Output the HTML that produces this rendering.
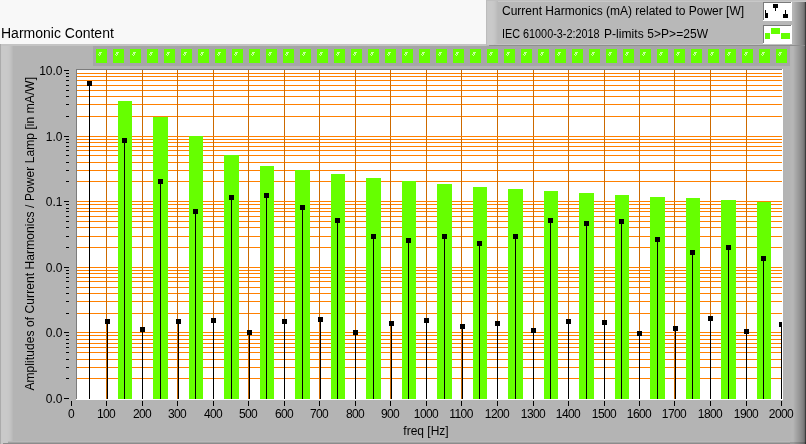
<!DOCTYPE html>
<html><head><meta charset="utf-8"><title>Harmonic Content</title>
<style>
html,body{margin:0;padding:0;background:#f8f8f8;}
body{width:806px;height:444px;overflow:hidden;}
svg{display:block;}
.t{font-family:"Liberation Sans", sans-serif;font-size:12px;fill:#000;}
.big{font-family:"Liberation Sans", sans-serif;font-size:14px;fill:#000;}
.l2{letter-spacing:-0.25px;}
</style></head><body>
<svg width="806" height="444" viewBox="0 0 806 444" shape-rendering="crispEdges">
<rect x="0" y="0" width="806" height="444" fill="#f8f8f8"/>
<rect x="0" y="44" width="806" height="400" fill="#b4b4b4"/>
<rect x="0" y="44" width="1" height="400" fill="#ababab"/>
<rect x="1" y="44" width="1" height="400" fill="#c8c8c8"/>
<rect x="2" y="44" width="1" height="400" fill="#c9c9c9"/>
<rect x="3" y="44" width="1" height="400" fill="#c9c9c9"/>
<rect x="4" y="44" width="1" height="400" fill="#c9c9c9"/>
<rect x="5" y="44" width="1" height="400" fill="#c9c9c9"/>
<rect x="6" y="44" width="1" height="400" fill="#c9c9c9"/>
<rect x="7" y="44" width="1" height="400" fill="#c8c8c8"/>
<rect x="8" y="44" width="1" height="400" fill="#c7c7c7"/>
<rect x="9" y="44" width="1" height="400" fill="#c5c5c5"/>
<rect x="10" y="44" width="1" height="400" fill="#c2c2c2"/>
<rect x="11" y="44" width="1" height="400" fill="#bebebe"/>
<rect x="12" y="44" width="1" height="400" fill="#b9b9b9"/>
<rect x="1" y="44" width="792" height="2" fill="#c4c4c4"/>
<rect x="8" y="441" width="782" height="1" fill="#b9b9b9"/>
<rect x="8" y="442" width="782" height="1" fill="#a3a3a3"/>
<rect x="3" y="443" width="787" height="1" fill="#8c8c8c"/>
<rect x="790" y="44" width="1" height="400" fill="#b5b5b5"/>
<rect x="791" y="44" width="1" height="400" fill="#b6b6b6"/>
<rect x="792" y="44" width="1" height="400" fill="#b6b6b6"/>
<rect x="793" y="44" width="1" height="400" fill="#b4b4b4"/>
<rect x="794" y="44" width="1" height="400" fill="#aeaeae"/>
<rect x="795" y="44" width="1" height="400" fill="#a9a9a9"/>
<rect x="796" y="44" width="1" height="400" fill="#a4a4a4"/>
<rect x="797" y="44" width="1" height="400" fill="#9f9f9f"/>
<rect x="798" y="44" width="1" height="400" fill="#9a9a9a"/>
<rect x="799" y="44" width="1" height="400" fill="#959595"/>
<rect x="800" y="44" width="1" height="400" fill="#8f8f8f"/>
<rect x="801" y="44" width="1" height="400" fill="#898989"/>
<rect x="802" y="44" width="1" height="400" fill="#838383"/>
<rect x="803" y="44" width="1" height="400" fill="#7b7b7b"/>
<rect x="804" y="44" width="1" height="400" fill="#6c6c6c"/>
<rect x="805" y="44" width="1" height="400" fill="#3c3c3c"/>
<rect x="790" y="442" width="16" height="2" fill="#000" fill-opacity="0.15"/>
<rect x="486" y="0" width="320" height="46" fill="#b8b8b8"/>
<rect x="486" y="0" width="1" height="46" fill="#bcbcbc"/>
<rect x="487" y="0" width="319" height="2" fill="#c8c8c8"/>
<rect x="487" y="0" width="319" height="1" fill="#bfbfbf"/>
<rect x="487" y="1" width="1" height="44" fill="#c8c8c8"/>
<rect x="488" y="1" width="1" height="44" fill="#c9c9c9"/>
<rect x="489" y="1" width="1" height="44" fill="#c9c9c9"/>
<rect x="490" y="1" width="1" height="44" fill="#c9c9c9"/>
<rect x="491" y="1" width="1" height="44" fill="#c9c9c9"/>
<rect x="492" y="1" width="1" height="44" fill="#c8c8c8"/>
<rect x="493" y="1" width="1" height="44" fill="#c7c7c7"/>
<rect x="494" y="1" width="1" height="44" fill="#c5c5c5"/>
<rect x="495" y="1" width="1" height="44" fill="#c2c2c2"/>
<rect x="496" y="1" width="1" height="44" fill="#bebebe"/>
<rect x="497" y="1" width="1" height="44" fill="#bababa"/>
<rect x="790" y="2" width="1" height="44" fill="#b5b5b5"/>
<rect x="791" y="2" width="1" height="44" fill="#b6b6b6"/>
<rect x="792" y="2" width="1" height="44" fill="#b6b6b6"/>
<rect x="793" y="2" width="1" height="44" fill="#b4b4b4"/>
<rect x="794" y="2" width="1" height="44" fill="#aeaeae"/>
<rect x="795" y="2" width="1" height="44" fill="#a9a9a9"/>
<rect x="796" y="2" width="1" height="44" fill="#a4a4a4"/>
<rect x="797" y="2" width="1" height="44" fill="#9f9f9f"/>
<rect x="798" y="2" width="1" height="44" fill="#9a9a9a"/>
<rect x="799" y="2" width="1" height="44" fill="#959595"/>
<rect x="800" y="2" width="1" height="44" fill="#8f8f8f"/>
<rect x="801" y="2" width="1" height="44" fill="#898989"/>
<rect x="802" y="2" width="1" height="44" fill="#838383"/>
<rect x="803" y="2" width="1" height="44" fill="#7b7b7b"/>
<rect x="804" y="2" width="1" height="44" fill="#6c6c6c"/>
<rect x="805" y="2" width="1" height="44" fill="#3c3c3c"/>
<rect x="494" y="44" width="296" height="1" fill="#c2c2c2"/>
<rect x="489" y="45" width="316" height="1" fill="#8e8e8e"/>
<rect x="763" y="2" width="29" height="19" fill="#ffffff"/><rect x="763" y="2" width="28" height="1" fill="#7a7a7a"/><rect x="763" y="2" width="1" height="18" fill="#7a7a7a"/>
<rect x="763" y="25" width="29" height="19" fill="#ffffff"/><rect x="763" y="25" width="28" height="1" fill="#7a7a7a"/><rect x="763" y="25" width="1" height="18" fill="#7a7a7a"/>
<rect x="773" y="4" width="5" height="4" fill="#000"/><rect x="775" y="8" width="1" height="3" fill="#000"/>
<rect x="765" y="10" width="1" height="3" fill="#000"/><rect x="765" y="13" width="3" height="5" fill="#000"/>
<rect x="785" y="10" width="1" height="4" fill="#000"/><rect x="783" y="14" width="5" height="4" fill="#000"/>
<rect x="765" y="33" width="5" height="6" fill="#66ff00"/><rect x="771" y="28" width="9" height="6" fill="#66ff00"/><rect x="781" y="33" width="9" height="6" fill="#66ff00"/>
<rect x="93" y="46" width="697" height="20" fill="#a6a6a6"/>
<rect x="96" y="49" width="11" height="14" fill="#66ff00"/>
<rect x="99" y="52" width="1" height="1" fill="#c8ffa0"/>
<rect x="100" y="52" width="1" height="1" fill="#c8ffa0"/>
<rect x="101" y="52" width="1" height="1" fill="#c8ffa0"/>
<rect x="99" y="53" width="1" height="1" fill="#c8ffa0"/>
<rect x="100" y="53" width="1" height="1" fill="#c8ffa0"/>
<rect x="98" y="54" width="1" height="1" fill="#c8ffa0"/>
<rect x="100" y="54" width="1" height="1" fill="#c8ffa0"/>
<rect x="99" y="55" width="1" height="1" fill="#c8ffa0"/>
<rect x="113" y="49" width="11" height="14" fill="#66ff00"/>
<rect x="116" y="52" width="1" height="1" fill="#c8ffa0"/>
<rect x="117" y="52" width="1" height="1" fill="#c8ffa0"/>
<rect x="118" y="52" width="1" height="1" fill="#c8ffa0"/>
<rect x="116" y="53" width="1" height="1" fill="#c8ffa0"/>
<rect x="117" y="53" width="1" height="1" fill="#c8ffa0"/>
<rect x="115" y="54" width="1" height="1" fill="#c8ffa0"/>
<rect x="117" y="54" width="1" height="1" fill="#c8ffa0"/>
<rect x="116" y="55" width="1" height="1" fill="#c8ffa0"/>
<rect x="130" y="49" width="11" height="14" fill="#66ff00"/>
<rect x="133" y="52" width="1" height="1" fill="#c8ffa0"/>
<rect x="134" y="52" width="1" height="1" fill="#c8ffa0"/>
<rect x="135" y="52" width="1" height="1" fill="#c8ffa0"/>
<rect x="133" y="53" width="1" height="1" fill="#c8ffa0"/>
<rect x="134" y="53" width="1" height="1" fill="#c8ffa0"/>
<rect x="132" y="54" width="1" height="1" fill="#c8ffa0"/>
<rect x="134" y="54" width="1" height="1" fill="#c8ffa0"/>
<rect x="133" y="55" width="1" height="1" fill="#c8ffa0"/>
<rect x="147" y="49" width="11" height="14" fill="#66ff00"/>
<rect x="150" y="52" width="1" height="1" fill="#c8ffa0"/>
<rect x="151" y="52" width="1" height="1" fill="#c8ffa0"/>
<rect x="152" y="52" width="1" height="1" fill="#c8ffa0"/>
<rect x="150" y="53" width="1" height="1" fill="#c8ffa0"/>
<rect x="151" y="53" width="1" height="1" fill="#c8ffa0"/>
<rect x="149" y="54" width="1" height="1" fill="#c8ffa0"/>
<rect x="151" y="54" width="1" height="1" fill="#c8ffa0"/>
<rect x="150" y="55" width="1" height="1" fill="#c8ffa0"/>
<rect x="164" y="49" width="11" height="14" fill="#66ff00"/>
<rect x="167" y="52" width="1" height="1" fill="#c8ffa0"/>
<rect x="168" y="52" width="1" height="1" fill="#c8ffa0"/>
<rect x="169" y="52" width="1" height="1" fill="#c8ffa0"/>
<rect x="167" y="53" width="1" height="1" fill="#c8ffa0"/>
<rect x="168" y="53" width="1" height="1" fill="#c8ffa0"/>
<rect x="166" y="54" width="1" height="1" fill="#c8ffa0"/>
<rect x="168" y="54" width="1" height="1" fill="#c8ffa0"/>
<rect x="167" y="55" width="1" height="1" fill="#c8ffa0"/>
<rect x="181" y="49" width="11" height="14" fill="#66ff00"/>
<rect x="184" y="52" width="1" height="1" fill="#c8ffa0"/>
<rect x="185" y="52" width="1" height="1" fill="#c8ffa0"/>
<rect x="186" y="52" width="1" height="1" fill="#c8ffa0"/>
<rect x="184" y="53" width="1" height="1" fill="#c8ffa0"/>
<rect x="185" y="53" width="1" height="1" fill="#c8ffa0"/>
<rect x="183" y="54" width="1" height="1" fill="#c8ffa0"/>
<rect x="185" y="54" width="1" height="1" fill="#c8ffa0"/>
<rect x="184" y="55" width="1" height="1" fill="#c8ffa0"/>
<rect x="198" y="49" width="11" height="14" fill="#66ff00"/>
<rect x="201" y="52" width="1" height="1" fill="#c8ffa0"/>
<rect x="202" y="52" width="1" height="1" fill="#c8ffa0"/>
<rect x="203" y="52" width="1" height="1" fill="#c8ffa0"/>
<rect x="201" y="53" width="1" height="1" fill="#c8ffa0"/>
<rect x="202" y="53" width="1" height="1" fill="#c8ffa0"/>
<rect x="200" y="54" width="1" height="1" fill="#c8ffa0"/>
<rect x="202" y="54" width="1" height="1" fill="#c8ffa0"/>
<rect x="201" y="55" width="1" height="1" fill="#c8ffa0"/>
<rect x="215" y="49" width="11" height="14" fill="#66ff00"/>
<rect x="218" y="52" width="1" height="1" fill="#c8ffa0"/>
<rect x="219" y="52" width="1" height="1" fill="#c8ffa0"/>
<rect x="220" y="52" width="1" height="1" fill="#c8ffa0"/>
<rect x="218" y="53" width="1" height="1" fill="#c8ffa0"/>
<rect x="219" y="53" width="1" height="1" fill="#c8ffa0"/>
<rect x="217" y="54" width="1" height="1" fill="#c8ffa0"/>
<rect x="219" y="54" width="1" height="1" fill="#c8ffa0"/>
<rect x="218" y="55" width="1" height="1" fill="#c8ffa0"/>
<rect x="232" y="49" width="11" height="14" fill="#66ff00"/>
<rect x="235" y="52" width="1" height="1" fill="#c8ffa0"/>
<rect x="236" y="52" width="1" height="1" fill="#c8ffa0"/>
<rect x="237" y="52" width="1" height="1" fill="#c8ffa0"/>
<rect x="235" y="53" width="1" height="1" fill="#c8ffa0"/>
<rect x="236" y="53" width="1" height="1" fill="#c8ffa0"/>
<rect x="234" y="54" width="1" height="1" fill="#c8ffa0"/>
<rect x="236" y="54" width="1" height="1" fill="#c8ffa0"/>
<rect x="235" y="55" width="1" height="1" fill="#c8ffa0"/>
<rect x="249" y="49" width="11" height="14" fill="#66ff00"/>
<rect x="252" y="52" width="1" height="1" fill="#c8ffa0"/>
<rect x="253" y="52" width="1" height="1" fill="#c8ffa0"/>
<rect x="254" y="52" width="1" height="1" fill="#c8ffa0"/>
<rect x="252" y="53" width="1" height="1" fill="#c8ffa0"/>
<rect x="253" y="53" width="1" height="1" fill="#c8ffa0"/>
<rect x="251" y="54" width="1" height="1" fill="#c8ffa0"/>
<rect x="253" y="54" width="1" height="1" fill="#c8ffa0"/>
<rect x="252" y="55" width="1" height="1" fill="#c8ffa0"/>
<rect x="266" y="49" width="11" height="14" fill="#66ff00"/>
<rect x="269" y="52" width="1" height="1" fill="#c8ffa0"/>
<rect x="270" y="52" width="1" height="1" fill="#c8ffa0"/>
<rect x="271" y="52" width="1" height="1" fill="#c8ffa0"/>
<rect x="269" y="53" width="1" height="1" fill="#c8ffa0"/>
<rect x="270" y="53" width="1" height="1" fill="#c8ffa0"/>
<rect x="268" y="54" width="1" height="1" fill="#c8ffa0"/>
<rect x="270" y="54" width="1" height="1" fill="#c8ffa0"/>
<rect x="269" y="55" width="1" height="1" fill="#c8ffa0"/>
<rect x="283" y="49" width="11" height="14" fill="#66ff00"/>
<rect x="286" y="52" width="1" height="1" fill="#c8ffa0"/>
<rect x="287" y="52" width="1" height="1" fill="#c8ffa0"/>
<rect x="288" y="52" width="1" height="1" fill="#c8ffa0"/>
<rect x="286" y="53" width="1" height="1" fill="#c8ffa0"/>
<rect x="287" y="53" width="1" height="1" fill="#c8ffa0"/>
<rect x="285" y="54" width="1" height="1" fill="#c8ffa0"/>
<rect x="287" y="54" width="1" height="1" fill="#c8ffa0"/>
<rect x="286" y="55" width="1" height="1" fill="#c8ffa0"/>
<rect x="300" y="49" width="11" height="14" fill="#66ff00"/>
<rect x="303" y="52" width="1" height="1" fill="#c8ffa0"/>
<rect x="304" y="52" width="1" height="1" fill="#c8ffa0"/>
<rect x="305" y="52" width="1" height="1" fill="#c8ffa0"/>
<rect x="303" y="53" width="1" height="1" fill="#c8ffa0"/>
<rect x="304" y="53" width="1" height="1" fill="#c8ffa0"/>
<rect x="302" y="54" width="1" height="1" fill="#c8ffa0"/>
<rect x="304" y="54" width="1" height="1" fill="#c8ffa0"/>
<rect x="303" y="55" width="1" height="1" fill="#c8ffa0"/>
<rect x="317" y="49" width="11" height="14" fill="#66ff00"/>
<rect x="320" y="52" width="1" height="1" fill="#c8ffa0"/>
<rect x="321" y="52" width="1" height="1" fill="#c8ffa0"/>
<rect x="322" y="52" width="1" height="1" fill="#c8ffa0"/>
<rect x="320" y="53" width="1" height="1" fill="#c8ffa0"/>
<rect x="321" y="53" width="1" height="1" fill="#c8ffa0"/>
<rect x="319" y="54" width="1" height="1" fill="#c8ffa0"/>
<rect x="321" y="54" width="1" height="1" fill="#c8ffa0"/>
<rect x="320" y="55" width="1" height="1" fill="#c8ffa0"/>
<rect x="334" y="49" width="11" height="14" fill="#66ff00"/>
<rect x="337" y="52" width="1" height="1" fill="#c8ffa0"/>
<rect x="338" y="52" width="1" height="1" fill="#c8ffa0"/>
<rect x="339" y="52" width="1" height="1" fill="#c8ffa0"/>
<rect x="337" y="53" width="1" height="1" fill="#c8ffa0"/>
<rect x="338" y="53" width="1" height="1" fill="#c8ffa0"/>
<rect x="336" y="54" width="1" height="1" fill="#c8ffa0"/>
<rect x="338" y="54" width="1" height="1" fill="#c8ffa0"/>
<rect x="337" y="55" width="1" height="1" fill="#c8ffa0"/>
<rect x="351" y="49" width="11" height="14" fill="#66ff00"/>
<rect x="354" y="52" width="1" height="1" fill="#c8ffa0"/>
<rect x="355" y="52" width="1" height="1" fill="#c8ffa0"/>
<rect x="356" y="52" width="1" height="1" fill="#c8ffa0"/>
<rect x="354" y="53" width="1" height="1" fill="#c8ffa0"/>
<rect x="355" y="53" width="1" height="1" fill="#c8ffa0"/>
<rect x="353" y="54" width="1" height="1" fill="#c8ffa0"/>
<rect x="355" y="54" width="1" height="1" fill="#c8ffa0"/>
<rect x="354" y="55" width="1" height="1" fill="#c8ffa0"/>
<rect x="368" y="49" width="11" height="14" fill="#66ff00"/>
<rect x="371" y="52" width="1" height="1" fill="#c8ffa0"/>
<rect x="372" y="52" width="1" height="1" fill="#c8ffa0"/>
<rect x="373" y="52" width="1" height="1" fill="#c8ffa0"/>
<rect x="371" y="53" width="1" height="1" fill="#c8ffa0"/>
<rect x="372" y="53" width="1" height="1" fill="#c8ffa0"/>
<rect x="370" y="54" width="1" height="1" fill="#c8ffa0"/>
<rect x="372" y="54" width="1" height="1" fill="#c8ffa0"/>
<rect x="371" y="55" width="1" height="1" fill="#c8ffa0"/>
<rect x="385" y="49" width="11" height="14" fill="#66ff00"/>
<rect x="388" y="52" width="1" height="1" fill="#c8ffa0"/>
<rect x="389" y="52" width="1" height="1" fill="#c8ffa0"/>
<rect x="390" y="52" width="1" height="1" fill="#c8ffa0"/>
<rect x="388" y="53" width="1" height="1" fill="#c8ffa0"/>
<rect x="389" y="53" width="1" height="1" fill="#c8ffa0"/>
<rect x="387" y="54" width="1" height="1" fill="#c8ffa0"/>
<rect x="389" y="54" width="1" height="1" fill="#c8ffa0"/>
<rect x="388" y="55" width="1" height="1" fill="#c8ffa0"/>
<rect x="402" y="49" width="11" height="14" fill="#66ff00"/>
<rect x="405" y="52" width="1" height="1" fill="#c8ffa0"/>
<rect x="406" y="52" width="1" height="1" fill="#c8ffa0"/>
<rect x="407" y="52" width="1" height="1" fill="#c8ffa0"/>
<rect x="405" y="53" width="1" height="1" fill="#c8ffa0"/>
<rect x="406" y="53" width="1" height="1" fill="#c8ffa0"/>
<rect x="404" y="54" width="1" height="1" fill="#c8ffa0"/>
<rect x="406" y="54" width="1" height="1" fill="#c8ffa0"/>
<rect x="405" y="55" width="1" height="1" fill="#c8ffa0"/>
<rect x="419" y="49" width="11" height="14" fill="#66ff00"/>
<rect x="422" y="52" width="1" height="1" fill="#c8ffa0"/>
<rect x="423" y="52" width="1" height="1" fill="#c8ffa0"/>
<rect x="424" y="52" width="1" height="1" fill="#c8ffa0"/>
<rect x="422" y="53" width="1" height="1" fill="#c8ffa0"/>
<rect x="423" y="53" width="1" height="1" fill="#c8ffa0"/>
<rect x="421" y="54" width="1" height="1" fill="#c8ffa0"/>
<rect x="423" y="54" width="1" height="1" fill="#c8ffa0"/>
<rect x="422" y="55" width="1" height="1" fill="#c8ffa0"/>
<rect x="436" y="49" width="11" height="14" fill="#66ff00"/>
<rect x="439" y="52" width="1" height="1" fill="#c8ffa0"/>
<rect x="440" y="52" width="1" height="1" fill="#c8ffa0"/>
<rect x="441" y="52" width="1" height="1" fill="#c8ffa0"/>
<rect x="439" y="53" width="1" height="1" fill="#c8ffa0"/>
<rect x="440" y="53" width="1" height="1" fill="#c8ffa0"/>
<rect x="438" y="54" width="1" height="1" fill="#c8ffa0"/>
<rect x="440" y="54" width="1" height="1" fill="#c8ffa0"/>
<rect x="439" y="55" width="1" height="1" fill="#c8ffa0"/>
<rect x="453" y="49" width="11" height="14" fill="#66ff00"/>
<rect x="456" y="52" width="1" height="1" fill="#c8ffa0"/>
<rect x="457" y="52" width="1" height="1" fill="#c8ffa0"/>
<rect x="458" y="52" width="1" height="1" fill="#c8ffa0"/>
<rect x="456" y="53" width="1" height="1" fill="#c8ffa0"/>
<rect x="457" y="53" width="1" height="1" fill="#c8ffa0"/>
<rect x="455" y="54" width="1" height="1" fill="#c8ffa0"/>
<rect x="457" y="54" width="1" height="1" fill="#c8ffa0"/>
<rect x="456" y="55" width="1" height="1" fill="#c8ffa0"/>
<rect x="470" y="49" width="11" height="14" fill="#66ff00"/>
<rect x="473" y="52" width="1" height="1" fill="#c8ffa0"/>
<rect x="474" y="52" width="1" height="1" fill="#c8ffa0"/>
<rect x="475" y="52" width="1" height="1" fill="#c8ffa0"/>
<rect x="473" y="53" width="1" height="1" fill="#c8ffa0"/>
<rect x="474" y="53" width="1" height="1" fill="#c8ffa0"/>
<rect x="472" y="54" width="1" height="1" fill="#c8ffa0"/>
<rect x="474" y="54" width="1" height="1" fill="#c8ffa0"/>
<rect x="473" y="55" width="1" height="1" fill="#c8ffa0"/>
<rect x="487" y="49" width="11" height="14" fill="#66ff00"/>
<rect x="490" y="52" width="1" height="1" fill="#c8ffa0"/>
<rect x="491" y="52" width="1" height="1" fill="#c8ffa0"/>
<rect x="492" y="52" width="1" height="1" fill="#c8ffa0"/>
<rect x="490" y="53" width="1" height="1" fill="#c8ffa0"/>
<rect x="491" y="53" width="1" height="1" fill="#c8ffa0"/>
<rect x="489" y="54" width="1" height="1" fill="#c8ffa0"/>
<rect x="491" y="54" width="1" height="1" fill="#c8ffa0"/>
<rect x="490" y="55" width="1" height="1" fill="#c8ffa0"/>
<rect x="504" y="49" width="11" height="14" fill="#66ff00"/>
<rect x="507" y="52" width="1" height="1" fill="#c8ffa0"/>
<rect x="508" y="52" width="1" height="1" fill="#c8ffa0"/>
<rect x="509" y="52" width="1" height="1" fill="#c8ffa0"/>
<rect x="507" y="53" width="1" height="1" fill="#c8ffa0"/>
<rect x="508" y="53" width="1" height="1" fill="#c8ffa0"/>
<rect x="506" y="54" width="1" height="1" fill="#c8ffa0"/>
<rect x="508" y="54" width="1" height="1" fill="#c8ffa0"/>
<rect x="507" y="55" width="1" height="1" fill="#c8ffa0"/>
<rect x="521" y="49" width="11" height="14" fill="#66ff00"/>
<rect x="524" y="52" width="1" height="1" fill="#c8ffa0"/>
<rect x="525" y="52" width="1" height="1" fill="#c8ffa0"/>
<rect x="526" y="52" width="1" height="1" fill="#c8ffa0"/>
<rect x="524" y="53" width="1" height="1" fill="#c8ffa0"/>
<rect x="525" y="53" width="1" height="1" fill="#c8ffa0"/>
<rect x="523" y="54" width="1" height="1" fill="#c8ffa0"/>
<rect x="525" y="54" width="1" height="1" fill="#c8ffa0"/>
<rect x="524" y="55" width="1" height="1" fill="#c8ffa0"/>
<rect x="538" y="49" width="11" height="14" fill="#66ff00"/>
<rect x="541" y="52" width="1" height="1" fill="#c8ffa0"/>
<rect x="542" y="52" width="1" height="1" fill="#c8ffa0"/>
<rect x="543" y="52" width="1" height="1" fill="#c8ffa0"/>
<rect x="541" y="53" width="1" height="1" fill="#c8ffa0"/>
<rect x="542" y="53" width="1" height="1" fill="#c8ffa0"/>
<rect x="540" y="54" width="1" height="1" fill="#c8ffa0"/>
<rect x="542" y="54" width="1" height="1" fill="#c8ffa0"/>
<rect x="541" y="55" width="1" height="1" fill="#c8ffa0"/>
<rect x="555" y="49" width="11" height="14" fill="#66ff00"/>
<rect x="558" y="52" width="1" height="1" fill="#c8ffa0"/>
<rect x="559" y="52" width="1" height="1" fill="#c8ffa0"/>
<rect x="560" y="52" width="1" height="1" fill="#c8ffa0"/>
<rect x="558" y="53" width="1" height="1" fill="#c8ffa0"/>
<rect x="559" y="53" width="1" height="1" fill="#c8ffa0"/>
<rect x="557" y="54" width="1" height="1" fill="#c8ffa0"/>
<rect x="559" y="54" width="1" height="1" fill="#c8ffa0"/>
<rect x="558" y="55" width="1" height="1" fill="#c8ffa0"/>
<rect x="572" y="49" width="11" height="14" fill="#66ff00"/>
<rect x="575" y="52" width="1" height="1" fill="#c8ffa0"/>
<rect x="576" y="52" width="1" height="1" fill="#c8ffa0"/>
<rect x="577" y="52" width="1" height="1" fill="#c8ffa0"/>
<rect x="575" y="53" width="1" height="1" fill="#c8ffa0"/>
<rect x="576" y="53" width="1" height="1" fill="#c8ffa0"/>
<rect x="574" y="54" width="1" height="1" fill="#c8ffa0"/>
<rect x="576" y="54" width="1" height="1" fill="#c8ffa0"/>
<rect x="575" y="55" width="1" height="1" fill="#c8ffa0"/>
<rect x="589" y="49" width="11" height="14" fill="#66ff00"/>
<rect x="592" y="52" width="1" height="1" fill="#c8ffa0"/>
<rect x="593" y="52" width="1" height="1" fill="#c8ffa0"/>
<rect x="594" y="52" width="1" height="1" fill="#c8ffa0"/>
<rect x="592" y="53" width="1" height="1" fill="#c8ffa0"/>
<rect x="593" y="53" width="1" height="1" fill="#c8ffa0"/>
<rect x="591" y="54" width="1" height="1" fill="#c8ffa0"/>
<rect x="593" y="54" width="1" height="1" fill="#c8ffa0"/>
<rect x="592" y="55" width="1" height="1" fill="#c8ffa0"/>
<rect x="606" y="49" width="11" height="14" fill="#66ff00"/>
<rect x="609" y="52" width="1" height="1" fill="#c8ffa0"/>
<rect x="610" y="52" width="1" height="1" fill="#c8ffa0"/>
<rect x="611" y="52" width="1" height="1" fill="#c8ffa0"/>
<rect x="609" y="53" width="1" height="1" fill="#c8ffa0"/>
<rect x="610" y="53" width="1" height="1" fill="#c8ffa0"/>
<rect x="608" y="54" width="1" height="1" fill="#c8ffa0"/>
<rect x="610" y="54" width="1" height="1" fill="#c8ffa0"/>
<rect x="609" y="55" width="1" height="1" fill="#c8ffa0"/>
<rect x="623" y="49" width="11" height="14" fill="#66ff00"/>
<rect x="626" y="52" width="1" height="1" fill="#c8ffa0"/>
<rect x="627" y="52" width="1" height="1" fill="#c8ffa0"/>
<rect x="628" y="52" width="1" height="1" fill="#c8ffa0"/>
<rect x="626" y="53" width="1" height="1" fill="#c8ffa0"/>
<rect x="627" y="53" width="1" height="1" fill="#c8ffa0"/>
<rect x="625" y="54" width="1" height="1" fill="#c8ffa0"/>
<rect x="627" y="54" width="1" height="1" fill="#c8ffa0"/>
<rect x="626" y="55" width="1" height="1" fill="#c8ffa0"/>
<rect x="640" y="49" width="11" height="14" fill="#66ff00"/>
<rect x="643" y="52" width="1" height="1" fill="#c8ffa0"/>
<rect x="644" y="52" width="1" height="1" fill="#c8ffa0"/>
<rect x="645" y="52" width="1" height="1" fill="#c8ffa0"/>
<rect x="643" y="53" width="1" height="1" fill="#c8ffa0"/>
<rect x="644" y="53" width="1" height="1" fill="#c8ffa0"/>
<rect x="642" y="54" width="1" height="1" fill="#c8ffa0"/>
<rect x="644" y="54" width="1" height="1" fill="#c8ffa0"/>
<rect x="643" y="55" width="1" height="1" fill="#c8ffa0"/>
<rect x="657" y="49" width="11" height="14" fill="#66ff00"/>
<rect x="660" y="52" width="1" height="1" fill="#c8ffa0"/>
<rect x="661" y="52" width="1" height="1" fill="#c8ffa0"/>
<rect x="662" y="52" width="1" height="1" fill="#c8ffa0"/>
<rect x="660" y="53" width="1" height="1" fill="#c8ffa0"/>
<rect x="661" y="53" width="1" height="1" fill="#c8ffa0"/>
<rect x="659" y="54" width="1" height="1" fill="#c8ffa0"/>
<rect x="661" y="54" width="1" height="1" fill="#c8ffa0"/>
<rect x="660" y="55" width="1" height="1" fill="#c8ffa0"/>
<rect x="674" y="49" width="11" height="14" fill="#66ff00"/>
<rect x="677" y="52" width="1" height="1" fill="#c8ffa0"/>
<rect x="678" y="52" width="1" height="1" fill="#c8ffa0"/>
<rect x="679" y="52" width="1" height="1" fill="#c8ffa0"/>
<rect x="677" y="53" width="1" height="1" fill="#c8ffa0"/>
<rect x="678" y="53" width="1" height="1" fill="#c8ffa0"/>
<rect x="676" y="54" width="1" height="1" fill="#c8ffa0"/>
<rect x="678" y="54" width="1" height="1" fill="#c8ffa0"/>
<rect x="677" y="55" width="1" height="1" fill="#c8ffa0"/>
<rect x="691" y="49" width="11" height="14" fill="#66ff00"/>
<rect x="694" y="52" width="1" height="1" fill="#c8ffa0"/>
<rect x="695" y="52" width="1" height="1" fill="#c8ffa0"/>
<rect x="696" y="52" width="1" height="1" fill="#c8ffa0"/>
<rect x="694" y="53" width="1" height="1" fill="#c8ffa0"/>
<rect x="695" y="53" width="1" height="1" fill="#c8ffa0"/>
<rect x="693" y="54" width="1" height="1" fill="#c8ffa0"/>
<rect x="695" y="54" width="1" height="1" fill="#c8ffa0"/>
<rect x="694" y="55" width="1" height="1" fill="#c8ffa0"/>
<rect x="708" y="49" width="11" height="14" fill="#66ff00"/>
<rect x="711" y="52" width="1" height="1" fill="#c8ffa0"/>
<rect x="712" y="52" width="1" height="1" fill="#c8ffa0"/>
<rect x="713" y="52" width="1" height="1" fill="#c8ffa0"/>
<rect x="711" y="53" width="1" height="1" fill="#c8ffa0"/>
<rect x="712" y="53" width="1" height="1" fill="#c8ffa0"/>
<rect x="710" y="54" width="1" height="1" fill="#c8ffa0"/>
<rect x="712" y="54" width="1" height="1" fill="#c8ffa0"/>
<rect x="711" y="55" width="1" height="1" fill="#c8ffa0"/>
<rect x="725" y="49" width="11" height="14" fill="#66ff00"/>
<rect x="728" y="52" width="1" height="1" fill="#c8ffa0"/>
<rect x="729" y="52" width="1" height="1" fill="#c8ffa0"/>
<rect x="730" y="52" width="1" height="1" fill="#c8ffa0"/>
<rect x="728" y="53" width="1" height="1" fill="#c8ffa0"/>
<rect x="729" y="53" width="1" height="1" fill="#c8ffa0"/>
<rect x="727" y="54" width="1" height="1" fill="#c8ffa0"/>
<rect x="729" y="54" width="1" height="1" fill="#c8ffa0"/>
<rect x="728" y="55" width="1" height="1" fill="#c8ffa0"/>
<rect x="742" y="49" width="11" height="14" fill="#66ff00"/>
<rect x="745" y="52" width="1" height="1" fill="#c8ffa0"/>
<rect x="746" y="52" width="1" height="1" fill="#c8ffa0"/>
<rect x="747" y="52" width="1" height="1" fill="#c8ffa0"/>
<rect x="745" y="53" width="1" height="1" fill="#c8ffa0"/>
<rect x="746" y="53" width="1" height="1" fill="#c8ffa0"/>
<rect x="744" y="54" width="1" height="1" fill="#c8ffa0"/>
<rect x="746" y="54" width="1" height="1" fill="#c8ffa0"/>
<rect x="745" y="55" width="1" height="1" fill="#c8ffa0"/>
<rect x="759" y="49" width="11" height="14" fill="#66ff00"/>
<rect x="762" y="52" width="1" height="1" fill="#c8ffa0"/>
<rect x="763" y="52" width="1" height="1" fill="#c8ffa0"/>
<rect x="764" y="52" width="1" height="1" fill="#c8ffa0"/>
<rect x="762" y="53" width="1" height="1" fill="#c8ffa0"/>
<rect x="763" y="53" width="1" height="1" fill="#c8ffa0"/>
<rect x="761" y="54" width="1" height="1" fill="#c8ffa0"/>
<rect x="763" y="54" width="1" height="1" fill="#c8ffa0"/>
<rect x="762" y="55" width="1" height="1" fill="#c8ffa0"/>
<rect x="776" y="49" width="11" height="14" fill="#66ff00"/>
<rect x="779" y="52" width="1" height="1" fill="#c8ffa0"/>
<rect x="780" y="52" width="1" height="1" fill="#c8ffa0"/>
<rect x="781" y="52" width="1" height="1" fill="#c8ffa0"/>
<rect x="779" y="53" width="1" height="1" fill="#c8ffa0"/>
<rect x="780" y="53" width="1" height="1" fill="#c8ffa0"/>
<rect x="778" y="54" width="1" height="1" fill="#c8ffa0"/>
<rect x="780" y="54" width="1" height="1" fill="#c8ffa0"/>
<rect x="779" y="55" width="1" height="1" fill="#c8ffa0"/>
<rect x="76" y="69" width="707" height="331" fill="#ffffff"/>
<rect x="76" y="69" width="1" height="330" fill="#7c7c7c"/>
<rect x="76" y="69" width="706" height="1" fill="#7c7c7c"/>
<rect x="77" y="73" width="705" height="1" fill="#ff8000"/>
<rect x="77" y="76" width="705" height="1" fill="#ff8000"/>
<rect x="77" y="80" width="705" height="1" fill="#ff8000"/>
<rect x="77" y="85" width="705" height="1" fill="#ff8000"/>
<rect x="77" y="90" width="705" height="1" fill="#ff8000"/>
<rect x="77" y="96" width="705" height="1" fill="#ff8000"/>
<rect x="77" y="104" width="705" height="1" fill="#ff8000"/>
<rect x="77" y="116" width="705" height="1" fill="#ff8000"/>
<rect x="77" y="139" width="705" height="1" fill="#ff8000"/>
<rect x="77" y="142" width="705" height="1" fill="#ff8000"/>
<rect x="77" y="146" width="705" height="1" fill="#ff8000"/>
<rect x="77" y="150" width="705" height="1" fill="#ff8000"/>
<rect x="77" y="155" width="705" height="1" fill="#ff8000"/>
<rect x="77" y="162" width="705" height="1" fill="#ff8000"/>
<rect x="77" y="170" width="705" height="1" fill="#ff8000"/>
<rect x="77" y="181" width="705" height="1" fill="#ff8000"/>
<rect x="77" y="204" width="705" height="1" fill="#ff8000"/>
<rect x="77" y="208" width="705" height="1" fill="#ff8000"/>
<rect x="77" y="211" width="705" height="1" fill="#ff8000"/>
<rect x="77" y="216" width="705" height="1" fill="#ff8000"/>
<rect x="77" y="221" width="705" height="1" fill="#ff8000"/>
<rect x="77" y="227" width="705" height="1" fill="#ff8000"/>
<rect x="77" y="236" width="705" height="1" fill="#ff8000"/>
<rect x="77" y="247" width="705" height="1" fill="#ff8000"/>
<rect x="77" y="270" width="705" height="1" fill="#ff8000"/>
<rect x="77" y="273" width="705" height="1" fill="#ff8000"/>
<rect x="77" y="277" width="705" height="1" fill="#ff8000"/>
<rect x="77" y="281" width="705" height="1" fill="#ff8000"/>
<rect x="77" y="287" width="705" height="1" fill="#ff8000"/>
<rect x="77" y="293" width="705" height="1" fill="#ff8000"/>
<rect x="77" y="301" width="705" height="1" fill="#ff8000"/>
<rect x="77" y="313" width="705" height="1" fill="#ff8000"/>
<rect x="77" y="335" width="705" height="1" fill="#ff8000"/>
<rect x="77" y="339" width="705" height="1" fill="#ff8000"/>
<rect x="77" y="343" width="705" height="1" fill="#ff8000"/>
<rect x="77" y="347" width="705" height="1" fill="#ff8000"/>
<rect x="77" y="352" width="705" height="1" fill="#ff8000"/>
<rect x="77" y="359" width="705" height="1" fill="#ff8000"/>
<rect x="77" y="367" width="705" height="1" fill="#ff8000"/>
<rect x="77" y="378" width="705" height="1" fill="#ff8000"/>
<rect x="106" y="70" width="1" height="329" fill="#cc6a00"/>
<rect x="142" y="70" width="1" height="329" fill="#cc6a00"/>
<rect x="177" y="70" width="1" height="329" fill="#cc6a00"/>
<rect x="213" y="70" width="1" height="329" fill="#cc6a00"/>
<rect x="248" y="70" width="1" height="329" fill="#cc6a00"/>
<rect x="284" y="70" width="1" height="329" fill="#cc6a00"/>
<rect x="319" y="70" width="1" height="329" fill="#cc6a00"/>
<rect x="355" y="70" width="1" height="329" fill="#cc6a00"/>
<rect x="390" y="70" width="1" height="329" fill="#cc6a00"/>
<rect x="426" y="70" width="1" height="329" fill="#cc6a00"/>
<rect x="461" y="70" width="1" height="329" fill="#cc6a00"/>
<rect x="497" y="70" width="1" height="329" fill="#cc6a00"/>
<rect x="533" y="70" width="1" height="329" fill="#cc6a00"/>
<rect x="568" y="70" width="1" height="329" fill="#cc6a00"/>
<rect x="604" y="70" width="1" height="329" fill="#cc6a00"/>
<rect x="639" y="70" width="1" height="329" fill="#cc6a00"/>
<rect x="674" y="70" width="1" height="329" fill="#cc6a00"/>
<rect x="710" y="70" width="1" height="329" fill="#cc6a00"/>
<rect x="746" y="70" width="1" height="329" fill="#cc6a00"/>
<rect x="77" y="136" width="705" height="1" fill="#ff8000"/>
<rect x="77" y="201" width="705" height="1" fill="#ff8000"/>
<rect x="77" y="267" width="705" height="1" fill="#ff8000"/>
<rect x="77" y="332" width="705" height="1" fill="#ff8000"/>
<rect x="118" y="101" width="14" height="298" fill="#66ff00"/>
<rect x="153" y="117" width="15" height="282" fill="#66ff00"/>
<rect x="189" y="136" width="14" height="263" fill="#66ff00"/>
<rect x="224" y="155" width="15" height="244" fill="#66ff00"/>
<rect x="260" y="166" width="14" height="233" fill="#66ff00"/>
<rect x="295" y="170" width="15" height="229" fill="#66ff00"/>
<rect x="331" y="174" width="14" height="225" fill="#66ff00"/>
<rect x="366" y="178" width="15" height="221" fill="#66ff00"/>
<rect x="402" y="181" width="14" height="218" fill="#66ff00"/>
<rect x="437" y="184" width="15" height="215" fill="#66ff00"/>
<rect x="473" y="187" width="14" height="212" fill="#66ff00"/>
<rect x="508" y="189" width="15" height="210" fill="#66ff00"/>
<rect x="544" y="191" width="14" height="208" fill="#66ff00"/>
<rect x="579" y="193" width="15" height="206" fill="#66ff00"/>
<rect x="615" y="195" width="14" height="204" fill="#66ff00"/>
<rect x="650" y="197" width="15" height="202" fill="#66ff00"/>
<rect x="686" y="198" width="14" height="201" fill="#66ff00"/>
<rect x="721" y="200" width="15" height="199" fill="#66ff00"/>
<rect x="757" y="202" width="14" height="197" fill="#66ff00"/>
<rect x="89" y="86" width="1" height="313" fill="#000"/>
<rect x="87" y="81" width="5" height="5" fill="#000"/>
<rect x="107" y="324" width="1" height="75" fill="#000"/>
<rect x="105" y="319" width="5" height="5" fill="#000"/>
<rect x="124" y="143" width="1" height="256" fill="#000"/>
<rect x="122" y="138" width="5" height="5" fill="#000"/>
<rect x="142" y="332" width="1" height="67" fill="#000"/>
<rect x="140" y="327" width="5" height="5" fill="#000"/>
<rect x="160" y="184" width="1" height="215" fill="#000"/>
<rect x="158" y="179" width="5" height="5" fill="#000"/>
<rect x="178" y="324" width="1" height="75" fill="#000"/>
<rect x="176" y="319" width="5" height="5" fill="#000"/>
<rect x="195" y="214" width="1" height="185" fill="#000"/>
<rect x="193" y="209" width="5" height="5" fill="#000"/>
<rect x="213" y="323" width="1" height="76" fill="#000"/>
<rect x="211" y="318" width="5" height="5" fill="#000"/>
<rect x="231" y="200" width="1" height="199" fill="#000"/>
<rect x="229" y="195" width="5" height="5" fill="#000"/>
<rect x="249" y="335" width="1" height="64" fill="#000"/>
<rect x="247" y="330" width="5" height="5" fill="#000"/>
<rect x="266" y="198" width="1" height="201" fill="#000"/>
<rect x="264" y="193" width="5" height="5" fill="#000"/>
<rect x="284" y="324" width="1" height="75" fill="#000"/>
<rect x="282" y="319" width="5" height="5" fill="#000"/>
<rect x="302" y="210" width="1" height="189" fill="#000"/>
<rect x="300" y="205" width="5" height="5" fill="#000"/>
<rect x="320" y="322" width="1" height="77" fill="#000"/>
<rect x="318" y="317" width="5" height="5" fill="#000"/>
<rect x="337" y="223" width="1" height="176" fill="#000"/>
<rect x="335" y="218" width="5" height="5" fill="#000"/>
<rect x="355" y="335" width="1" height="64" fill="#000"/>
<rect x="353" y="330" width="5" height="5" fill="#000"/>
<rect x="373" y="239" width="1" height="160" fill="#000"/>
<rect x="371" y="234" width="5" height="5" fill="#000"/>
<rect x="391" y="326" width="1" height="73" fill="#000"/>
<rect x="389" y="321" width="5" height="5" fill="#000"/>
<rect x="408" y="243" width="1" height="156" fill="#000"/>
<rect x="406" y="238" width="5" height="5" fill="#000"/>
<rect x="426" y="323" width="1" height="76" fill="#000"/>
<rect x="424" y="318" width="5" height="5" fill="#000"/>
<rect x="444" y="239" width="1" height="160" fill="#000"/>
<rect x="442" y="234" width="5" height="5" fill="#000"/>
<rect x="462" y="329" width="1" height="70" fill="#000"/>
<rect x="460" y="324" width="5" height="5" fill="#000"/>
<rect x="479" y="246" width="1" height="153" fill="#000"/>
<rect x="477" y="241" width="5" height="5" fill="#000"/>
<rect x="497" y="326" width="1" height="73" fill="#000"/>
<rect x="495" y="321" width="5" height="5" fill="#000"/>
<rect x="515" y="239" width="1" height="160" fill="#000"/>
<rect x="513" y="234" width="5" height="5" fill="#000"/>
<rect x="533" y="333" width="1" height="66" fill="#000"/>
<rect x="531" y="328" width="5" height="5" fill="#000"/>
<rect x="550" y="223" width="1" height="176" fill="#000"/>
<rect x="548" y="218" width="5" height="5" fill="#000"/>
<rect x="568" y="324" width="1" height="75" fill="#000"/>
<rect x="566" y="319" width="5" height="5" fill="#000"/>
<rect x="586" y="226" width="1" height="173" fill="#000"/>
<rect x="584" y="221" width="5" height="5" fill="#000"/>
<rect x="604" y="325" width="1" height="74" fill="#000"/>
<rect x="602" y="320" width="5" height="5" fill="#000"/>
<rect x="621" y="224" width="1" height="175" fill="#000"/>
<rect x="619" y="219" width="5" height="5" fill="#000"/>
<rect x="639" y="336" width="1" height="63" fill="#000"/>
<rect x="637" y="331" width="5" height="5" fill="#000"/>
<rect x="657" y="242" width="1" height="157" fill="#000"/>
<rect x="655" y="237" width="5" height="5" fill="#000"/>
<rect x="675" y="331" width="1" height="68" fill="#000"/>
<rect x="673" y="326" width="5" height="5" fill="#000"/>
<rect x="692" y="255" width="1" height="144" fill="#000"/>
<rect x="690" y="250" width="5" height="5" fill="#000"/>
<rect x="710" y="321" width="1" height="78" fill="#000"/>
<rect x="708" y="316" width="5" height="5" fill="#000"/>
<rect x="728" y="250" width="1" height="149" fill="#000"/>
<rect x="726" y="245" width="5" height="5" fill="#000"/>
<rect x="746" y="334" width="1" height="65" fill="#000"/>
<rect x="744" y="329" width="5" height="5" fill="#000"/>
<rect x="763" y="261" width="1" height="138" fill="#000"/>
<rect x="761" y="256" width="5" height="5" fill="#000"/>
<rect x="781" y="327" width="1" height="72" fill="#000"/>
<rect x="779" y="322" width="3" height="5" fill="#000"/>
<rect x="64" y="70" width="5" height="1" fill="#000"/>
<rect x="64" y="136" width="5" height="1" fill="#000"/>
<rect x="66" y="116" width="3" height="1" fill="#000"/>
<rect x="66" y="104" width="3" height="1" fill="#000"/>
<rect x="66" y="96" width="3" height="1" fill="#000"/>
<rect x="66" y="90" width="3" height="1" fill="#000"/>
<rect x="66" y="85" width="3" height="1" fill="#000"/>
<rect x="66" y="80" width="3" height="1" fill="#000"/>
<rect x="66" y="76" width="3" height="1" fill="#000"/>
<rect x="66" y="73" width="3" height="1" fill="#000"/>
<rect x="64" y="201" width="5" height="1" fill="#000"/>
<rect x="66" y="181" width="3" height="1" fill="#000"/>
<rect x="66" y="170" width="3" height="1" fill="#000"/>
<rect x="66" y="162" width="3" height="1" fill="#000"/>
<rect x="66" y="155" width="3" height="1" fill="#000"/>
<rect x="66" y="150" width="3" height="1" fill="#000"/>
<rect x="66" y="146" width="3" height="1" fill="#000"/>
<rect x="66" y="142" width="3" height="1" fill="#000"/>
<rect x="66" y="139" width="3" height="1" fill="#000"/>
<rect x="64" y="267" width="5" height="1" fill="#000"/>
<rect x="66" y="247" width="3" height="1" fill="#000"/>
<rect x="66" y="236" width="3" height="1" fill="#000"/>
<rect x="66" y="227" width="3" height="1" fill="#000"/>
<rect x="66" y="221" width="3" height="1" fill="#000"/>
<rect x="66" y="216" width="3" height="1" fill="#000"/>
<rect x="66" y="211" width="3" height="1" fill="#000"/>
<rect x="66" y="208" width="3" height="1" fill="#000"/>
<rect x="66" y="204" width="3" height="1" fill="#000"/>
<rect x="64" y="332" width="5" height="1" fill="#000"/>
<rect x="66" y="313" width="3" height="1" fill="#000"/>
<rect x="66" y="301" width="3" height="1" fill="#000"/>
<rect x="66" y="293" width="3" height="1" fill="#000"/>
<rect x="66" y="287" width="3" height="1" fill="#000"/>
<rect x="66" y="281" width="3" height="1" fill="#000"/>
<rect x="66" y="277" width="3" height="1" fill="#000"/>
<rect x="66" y="273" width="3" height="1" fill="#000"/>
<rect x="66" y="270" width="3" height="1" fill="#000"/>
<rect x="64" y="398" width="5" height="1" fill="#000"/>
<rect x="66" y="378" width="3" height="1" fill="#000"/>
<rect x="66" y="367" width="3" height="1" fill="#000"/>
<rect x="66" y="359" width="3" height="1" fill="#000"/>
<rect x="66" y="352" width="3" height="1" fill="#000"/>
<rect x="66" y="347" width="3" height="1" fill="#000"/>
<rect x="66" y="343" width="3" height="1" fill="#000"/>
<rect x="66" y="339" width="3" height="1" fill="#000"/>
<rect x="66" y="335" width="3" height="1" fill="#000"/>
<text x="62.5" y="75" text-anchor="end" class="t">10.0</text>
<text x="62.5" y="141" text-anchor="end" class="t">1.0</text>
<text x="62.5" y="206" text-anchor="end" class="t">0.1</text>
<text x="62.5" y="272" text-anchor="end" class="t">0.0</text>
<text x="62.5" y="337" text-anchor="end" class="t">0.0</text>
<text x="62.5" y="403" text-anchor="end" class="t">0.0</text>
<rect x="71" y="401" width="1" height="5" fill="#000"/>
<text x="71" y="418" text-anchor="middle" class="t" letter-spacing="-0.6">0</text>
<rect x="106" y="401" width="1" height="5" fill="#000"/>
<text x="106" y="418" text-anchor="middle" class="t" letter-spacing="-0.6">100</text>
<rect x="142" y="401" width="1" height="5" fill="#000"/>
<text x="142" y="418" text-anchor="middle" class="t" letter-spacing="-0.6">200</text>
<rect x="177" y="401" width="1" height="5" fill="#000"/>
<text x="177" y="418" text-anchor="middle" class="t" letter-spacing="-0.6">300</text>
<rect x="213" y="401" width="1" height="5" fill="#000"/>
<text x="213" y="418" text-anchor="middle" class="t" letter-spacing="-0.6">400</text>
<rect x="248" y="401" width="1" height="5" fill="#000"/>
<text x="248" y="418" text-anchor="middle" class="t" letter-spacing="-0.6">500</text>
<rect x="284" y="401" width="1" height="5" fill="#000"/>
<text x="284" y="418" text-anchor="middle" class="t" letter-spacing="-0.6">600</text>
<rect x="319" y="401" width="1" height="5" fill="#000"/>
<text x="319" y="418" text-anchor="middle" class="t" letter-spacing="-0.6">700</text>
<rect x="355" y="401" width="1" height="5" fill="#000"/>
<text x="355" y="418" text-anchor="middle" class="t" letter-spacing="-0.6">800</text>
<rect x="390" y="401" width="1" height="5" fill="#000"/>
<text x="390" y="418" text-anchor="middle" class="t" letter-spacing="-0.6">900</text>
<rect x="426" y="401" width="1" height="5" fill="#000"/>
<text x="426" y="418" text-anchor="middle" class="t" letter-spacing="-0.6">1000</text>
<rect x="461" y="401" width="1" height="5" fill="#000"/>
<text x="461" y="418" text-anchor="middle" class="t" letter-spacing="-0.6">1100</text>
<rect x="497" y="401" width="1" height="5" fill="#000"/>
<text x="497" y="418" text-anchor="middle" class="t" letter-spacing="-0.6">1200</text>
<rect x="533" y="401" width="1" height="5" fill="#000"/>
<text x="533" y="418" text-anchor="middle" class="t" letter-spacing="-0.6">1300</text>
<rect x="568" y="401" width="1" height="5" fill="#000"/>
<text x="568" y="418" text-anchor="middle" class="t" letter-spacing="-0.6">1400</text>
<rect x="604" y="401" width="1" height="5" fill="#000"/>
<text x="604" y="418" text-anchor="middle" class="t" letter-spacing="-0.6">1500</text>
<rect x="639" y="401" width="1" height="5" fill="#000"/>
<text x="639" y="418" text-anchor="middle" class="t" letter-spacing="-0.6">1600</text>
<rect x="674" y="401" width="1" height="5" fill="#000"/>
<text x="674" y="418" text-anchor="middle" class="t" letter-spacing="-0.6">1700</text>
<rect x="710" y="401" width="1" height="5" fill="#000"/>
<text x="710" y="418" text-anchor="middle" class="t" letter-spacing="-0.6">1800</text>
<rect x="746" y="401" width="1" height="5" fill="#000"/>
<text x="746" y="418" text-anchor="middle" class="t" letter-spacing="-0.6">1900</text>
<rect x="781" y="401" width="1" height="5" fill="#000"/>
<text x="781" y="418" text-anchor="middle" class="t" letter-spacing="-0.6">2000</text>
<text x="426" y="435" text-anchor="middle" class="t">freq [Hz]</text>
<text transform="translate(34,233.7) rotate(-90)" text-anchor="middle" class="t" letter-spacing="0.08">Amplitudes of Current Harmonics / Power Lamp [in mA/W]</text>
<text x="1" y="38" class="big">Harmonic Content</text>
<text x="502" y="15" class="t">Current Harmonics (mA) related to Power [W]</text>
<text x="502" y="38" class="t" textLength="97.5" lengthAdjust="spacingAndGlyphs">IEC 61000-3-2:2018</text>
<text x="604" y="38" class="t" textLength="104" lengthAdjust="spacing">P-limits 5&gt;P&gt;=25W</text>
</svg>
</body></html>
